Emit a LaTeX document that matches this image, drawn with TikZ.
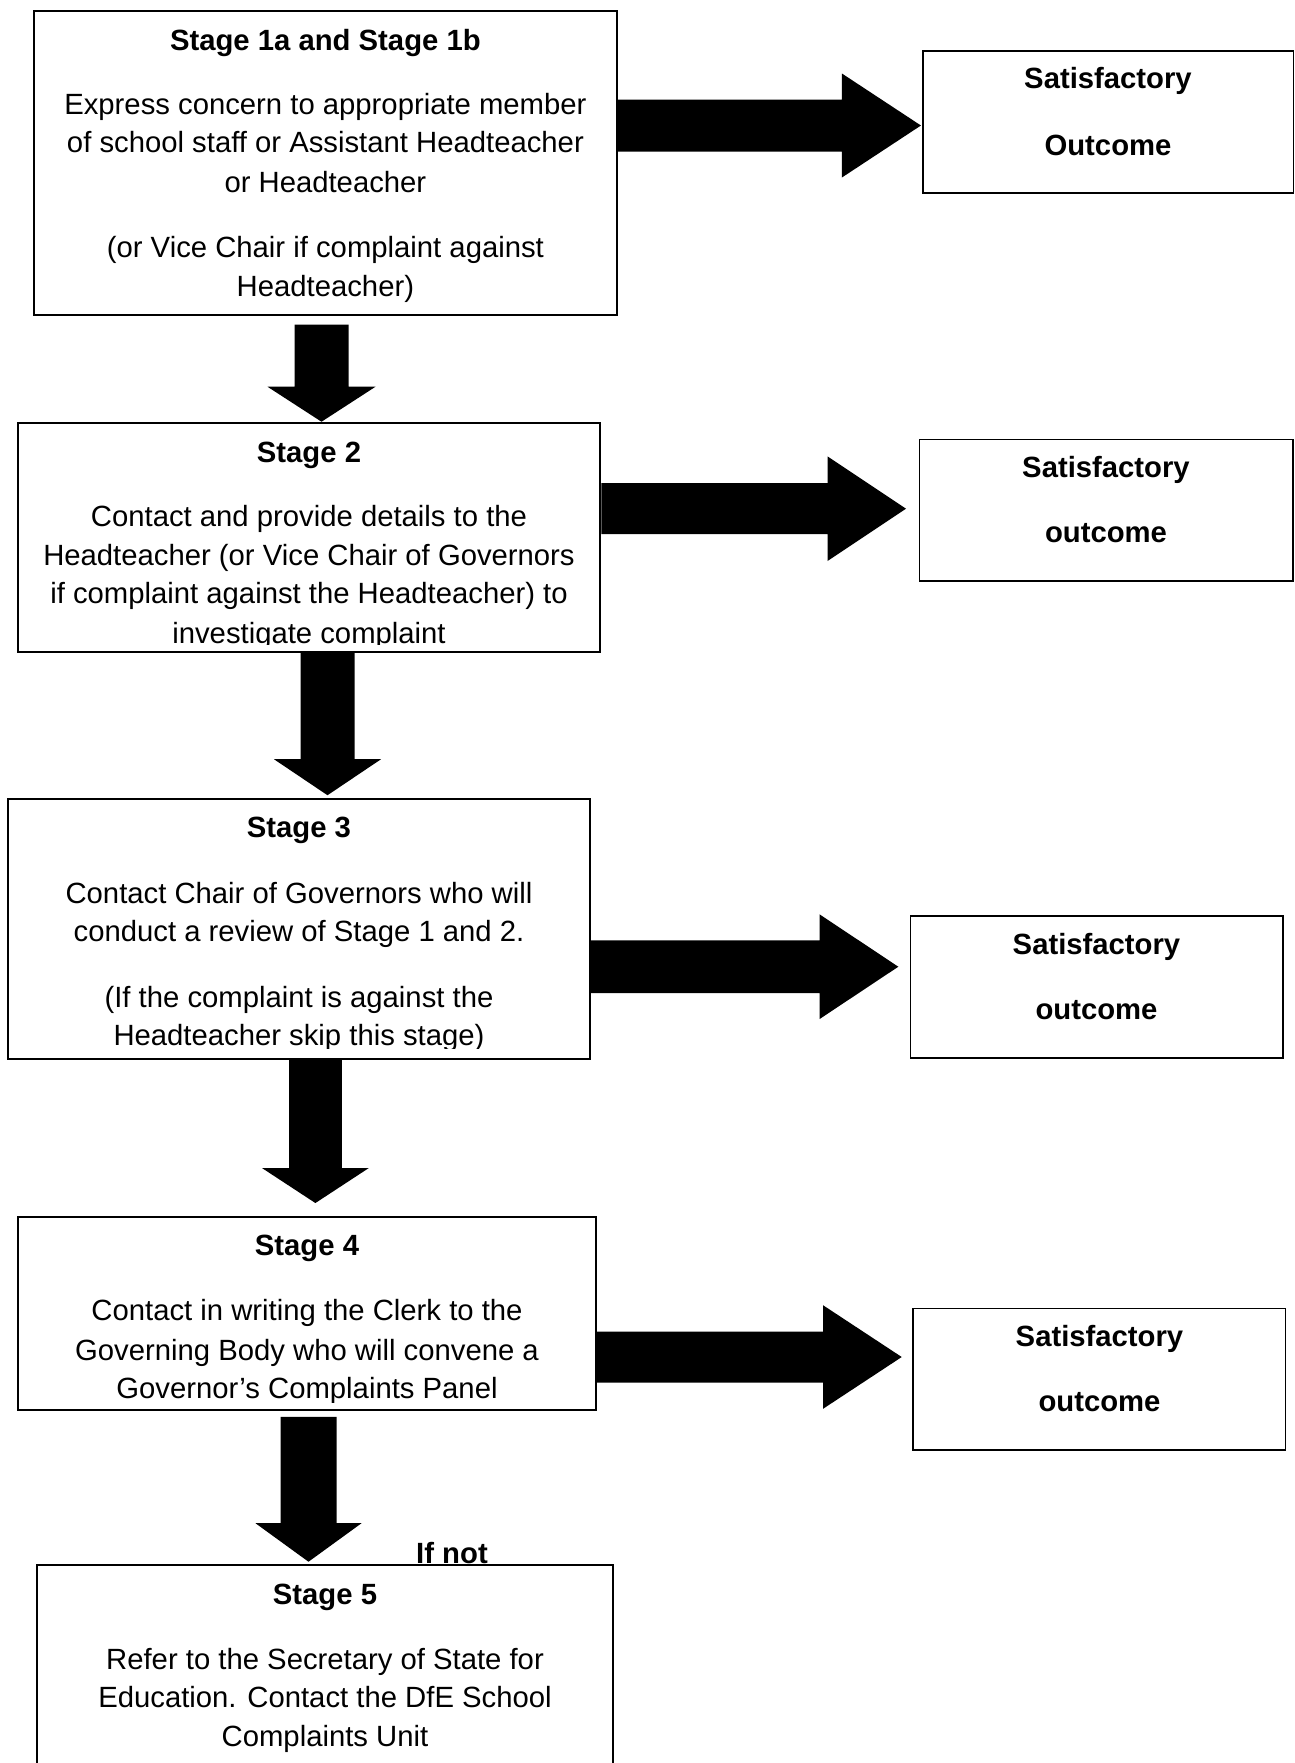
\documentclass[tikz,border=0pt]{standalone}
\usepackage{fontspec}
\setmainfont{Liberation Sans}
\usetikzlibrary{fit,calc}
\tikzset{
  stagebox/.style={draw=black, line width=0.8pt, inner sep=0pt},
  txt/.style={anchor=base, inner sep=0pt, font=\fontsize{12}{14}\selectfont},
  btxt/.style={anchor=base, inner sep=0pt, font=\fontsize{12}{14}\selectfont\bfseries},
  blockfill/.style={fill=black, draw=none},
}
% #1 tail, #2 tip, #3 shaft half width, #4 head half width, #5 head length
\newcommand\blockH[5]{%
  \fill[blockfill] ($(#1)+(0,-#3)$) -- ($(#2)+(-#5,-#3)$) -- ($(#2)+(-#5,-#4)$) -- (#2)
    -- ($(#2)+(-#5,#4)$) -- ($(#2)+(-#5,#3)$) -- ($(#1)+(0,#3)$) -- cycle;}
\newcommand\blockV[5]{%
  \fill[blockfill] ($(#1)+(-#3,0)$) -- ($(#2)+(-#3,-#5)$) -- ($(#2)+(-#4,-#5)$) -- (#2)
    -- ($(#2)+(#4,-#5)$) -- ($(#2)+(#3,-#5)$) -- ($(#1)+(#3,0)$) -- cycle;}
\begin{document}
\begin{tikzpicture}[x=0.41pt,y=-0.41pt]
\useasboundingbox (0,0) rectangle (1295,1763);
\clip (0,0) rectangle (1295,1763);

% stage boxes
\node[stagebox, fit={(33.7,11.2) (617.1,314.7)}] (b1) {};
\node[stagebox, fit={(18,422.7) (600.3,652)}] (b2) {};
\node[stagebox, fit={(7.9,799.2) (590.2,1058.9)}] (b3) {};
\node[stagebox, fit={(18,1217.4) (595.8,1409.6)}] (b4) {};
\node[stagebox, fit={(37,1564.7) (612.6,1800)}] (b5) {};
% outcome boxes
\node[stagebox, fit={(922.9,50.6) (1293.5,193.3)}] (o1) {};
\node[stagebox, fit={(919.5,439.5) (1292.7,581.2)}] (o2) {};
\node[stagebox, fit={(910.5,916.1) (1282.6,1057.8)}] (o3) {};
\node[stagebox, fit={(912.8,1308.5) (1285.5,1450)}] (o4) {};

% texts of stage 1
\begin{scope}
\clip (b1.north west) rectangle ($(b1.south east)+(0,-8)$);
\node[btxt] (t1a) at (325.4,50.5) {Stage 1a and Stage 1b};
\node[txt] (t1b) at (325.4,114.5) {Express concern to appropriate member};
\node[txt] (t1c) at (325.4,152.8) {of school staff or Assistant Headteacher};
\node[txt] (t1d) at (325.4,192.1) {or Headteacher};
\node[txt] (t1e) at (325.4,257.3) {(or Vice Chair if complaint against};
\node[txt] (t1f) at (325.4,296.6) {Headteacher)};
\end{scope}
% stage 2
\begin{scope}
\clip (b2.north west) rectangle ($(b2.south east)+(0,-8)$);
\node[btxt] (t2a) at (309,462) {Stage 2};
\node[txt] (t2b) at (309,526) {Contact and provide details to the};
\node[txt] (t2c) at (309,565) {Headteacher (or Vice Chair of Governors};
\node[txt] (t2d) at (309,603.5) {if complaint against the Headteacher) to};
\node[txt] (t2e) at (309,643) {investigate complaint};
\end{scope}
% stage 3
\begin{scope}
\clip (b3.north west) rectangle ($(b3.south east)+(0,-11)$);
\node[btxt] (t3a) at (299,837.3) {Stage 3};
\node[txt] (t3b) at (299,903.7) {Contact Chair of Governors who will};
\node[txt] (t3c) at (299,941.9) {conduct a review of Stage 1 and 2.};
\node[txt] (t3d) at (299,1007.1) {(If the complaint is against the};
\node[txt] (t3e) at (299,1045.3) {Headteacher skip this stage)};
\end{scope}
% stage 4
\begin{scope}
\clip (b4.north west) rectangle ($(b4.south east)+(0,-8)$);
\node[btxt] (t4a) at (307,1255.5) {Stage 4};
\node[txt] (t4b) at (307,1320.7) {Contact in writing the Clerk to the};
\node[txt] (t4c) at (307,1360) {Governing Body who will convene a};
\node[txt] (t4d) at (307,1398.3) {Governor’s Complaints Panel};
\end{scope}
% stage 5
\node[btxt] (t5a) at (325,1604) {Stage 5};
\node[txt] (t5b) at (325,1669) {Refer to the Secretary of State for};
\node[txt] (t5c) at (325,1707.4) {Education. Contact the DfE School};
\node[txt] (t5d) at (325,1746.7) {Complaints Unit};
% outcomes
\node[btxt] (u1a) at (1108,88.7) {Satisfactory};
\node[btxt] (u1b) at (1108,155) {Outcome};
\node[btxt] (u2a) at (1106,477.6) {Satisfactory};
\node[btxt] (u2b) at (1106,542.8) {outcome};
\node[btxt] (u3a) at (1096.5,954.2) {Satisfactory};
\node[btxt] (u3b) at (1096.5,1019.4) {outcome};
\node[btxt] (u4a) at (1099.5,1346.6) {Satisfactory};
\node[btxt] (u4b) at (1099.5,1411.8) {outcome};
\node[btxt] (ifnot) at (452,1563.5) {If not};

% horizontal block arrows
\coordinate (r1y) at (0,125.5);
\coordinate (r2y) at (0,508.7);
\coordinate (r3y) at (0,966.7);
\coordinate (r4y) at (0,1357);
\coordinate (r1tail) at (b1.east |- r1y);
\coordinate (r1tip) at ($(o1.west |- r1y)+(-1,0)$);
\coordinate (r2tail) at (b2.east |- r2y);
\coordinate (r2tip) at ($(o2.west |- r2y)+(-12.5,0)$);
\coordinate (r3tail) at (b3.east |- r3y);
\coordinate (r3tip) at ($(o3.west |- r3y)+(-11.2,0)$);
\coordinate (r4tail) at (b4.east |- r4y);
\coordinate (r4tip) at ($(o4.west |- r4y)+(-10.1,0)$);
\blockH{r1tail}{r1tip}{26}{52}{79}
\blockH{r2tail}{r2tip}{25.5}{52.3}{78.5}
\blockH{r3tail}{r3tip}{26.4}{52.3}{78.7}
\blockH{r4tail}{r4tip}{25.5}{51.8}{78.7}

% vertical block arrows
\coordinate (d1x) at (321.5,0);
\coordinate (d2x) at (327.5,0);
\coordinate (d3x) at (315.4,0);
\coordinate (d4x) at (308.5,0);
\coordinate (d1tail) at ($(b1.south -| d1x)+(0,9)$);
\coordinate (d1tip) at (b2.north -| d1x);
\coordinate (d2tail) at (b2.south -| d2x);
\coordinate (d2tip) at ($(b3.north -| d2x)+(0,-3)$);
\coordinate (d3tail) at (b3.south -| d3x);
\coordinate (d3tip) at ($(b4.north -| d3x)+(0,-13.4)$);
\coordinate (d4tail) at ($(b4.south -| d4x)+(0,6.4)$);
\coordinate (d4tip) at ($(b5.north -| d4x)+(0,-2)$);
\blockV{d1tail}{d1tip}{27}{54}{35}
\blockV{d2tail}{d2tip}{27}{53.5}{36}
\blockV{d3tail}{d3tip}{26.4}{53.4}{35}
\blockV{d4tail}{d4tip}{28}{53}{38.5}
\end{tikzpicture}
\end{document}
